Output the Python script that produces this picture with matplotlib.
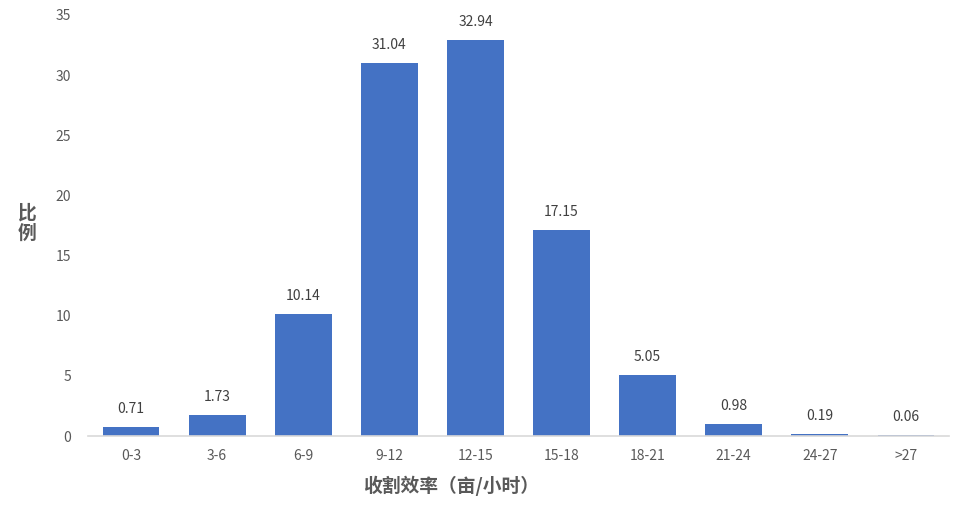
import matplotlib
matplotlib.use('Agg')
import matplotlib.pyplot as plt

plt.rcParams['font.family'] = ['Noto Sans CJK SC', 'DejaVu Sans']

categories = ['0-3', '3-6', '6-9', '9-12', '12-15', '15-18', '18-21', '21-24', '24-27', '>27']
values = [0.71, 1.73, 10.14, 31.04, 32.94, 17.15, 5.05, 0.98, 0.19, 0.06]
y_ticks = [0, 5, 10, 15, 20, 25, 30, 35]

fig = plt.figure(figsize=(9.56, 5.16), dpi=100)
ax = fig.add_axes([88 / 956, 1 - 436 / 516, (949 - 88) / 956, (436 - 15) / 516])

x = range(len(categories))
bars = ax.bar(x, values, width=0.66, color='#4472C4', zorder=2)
for xi, v in zip(x, values):
    ax.annotate('{:.2f}'.format(v), (xi, v), xytext=(0, 8), textcoords='offset points',
                ha='center', va='bottom', fontsize=10, color='#404040')

ax.set_xlim(-0.5, len(categories) - 0.5)
ax.set_ylim(0, 35)
ax.set_yticks(y_ticks)
ax.set_xticks(list(x))
ax.set_xticklabels(categories)
ax.tick_params(axis='both', length=0, labelsize=10, labelcolor='#595959')
ax.tick_params(axis='x', pad=9)
ax.tick_params(axis='y', pad=12)

for s in ['top', 'right', 'left']:
    ax.spines[s].set_visible(False)
ax.spines['bottom'].set_color('#D9D9D9')
ax.spines['bottom'].set_linewidth(1.2)

fig.text(451 / 956, 1 - 486 / 516, '收割效率（亩/小时）', ha='center', va='center',
         fontsize=13.5, fontweight='bold', color='#595959')
fig.text(27 / 956, 1 - 223 / 516, '比\n例', ha='center', va='center',
         fontsize=13.5, fontweight='bold', color='#595959', linespacing=1.05)

fig.savefig('out.png', dpi=100)
